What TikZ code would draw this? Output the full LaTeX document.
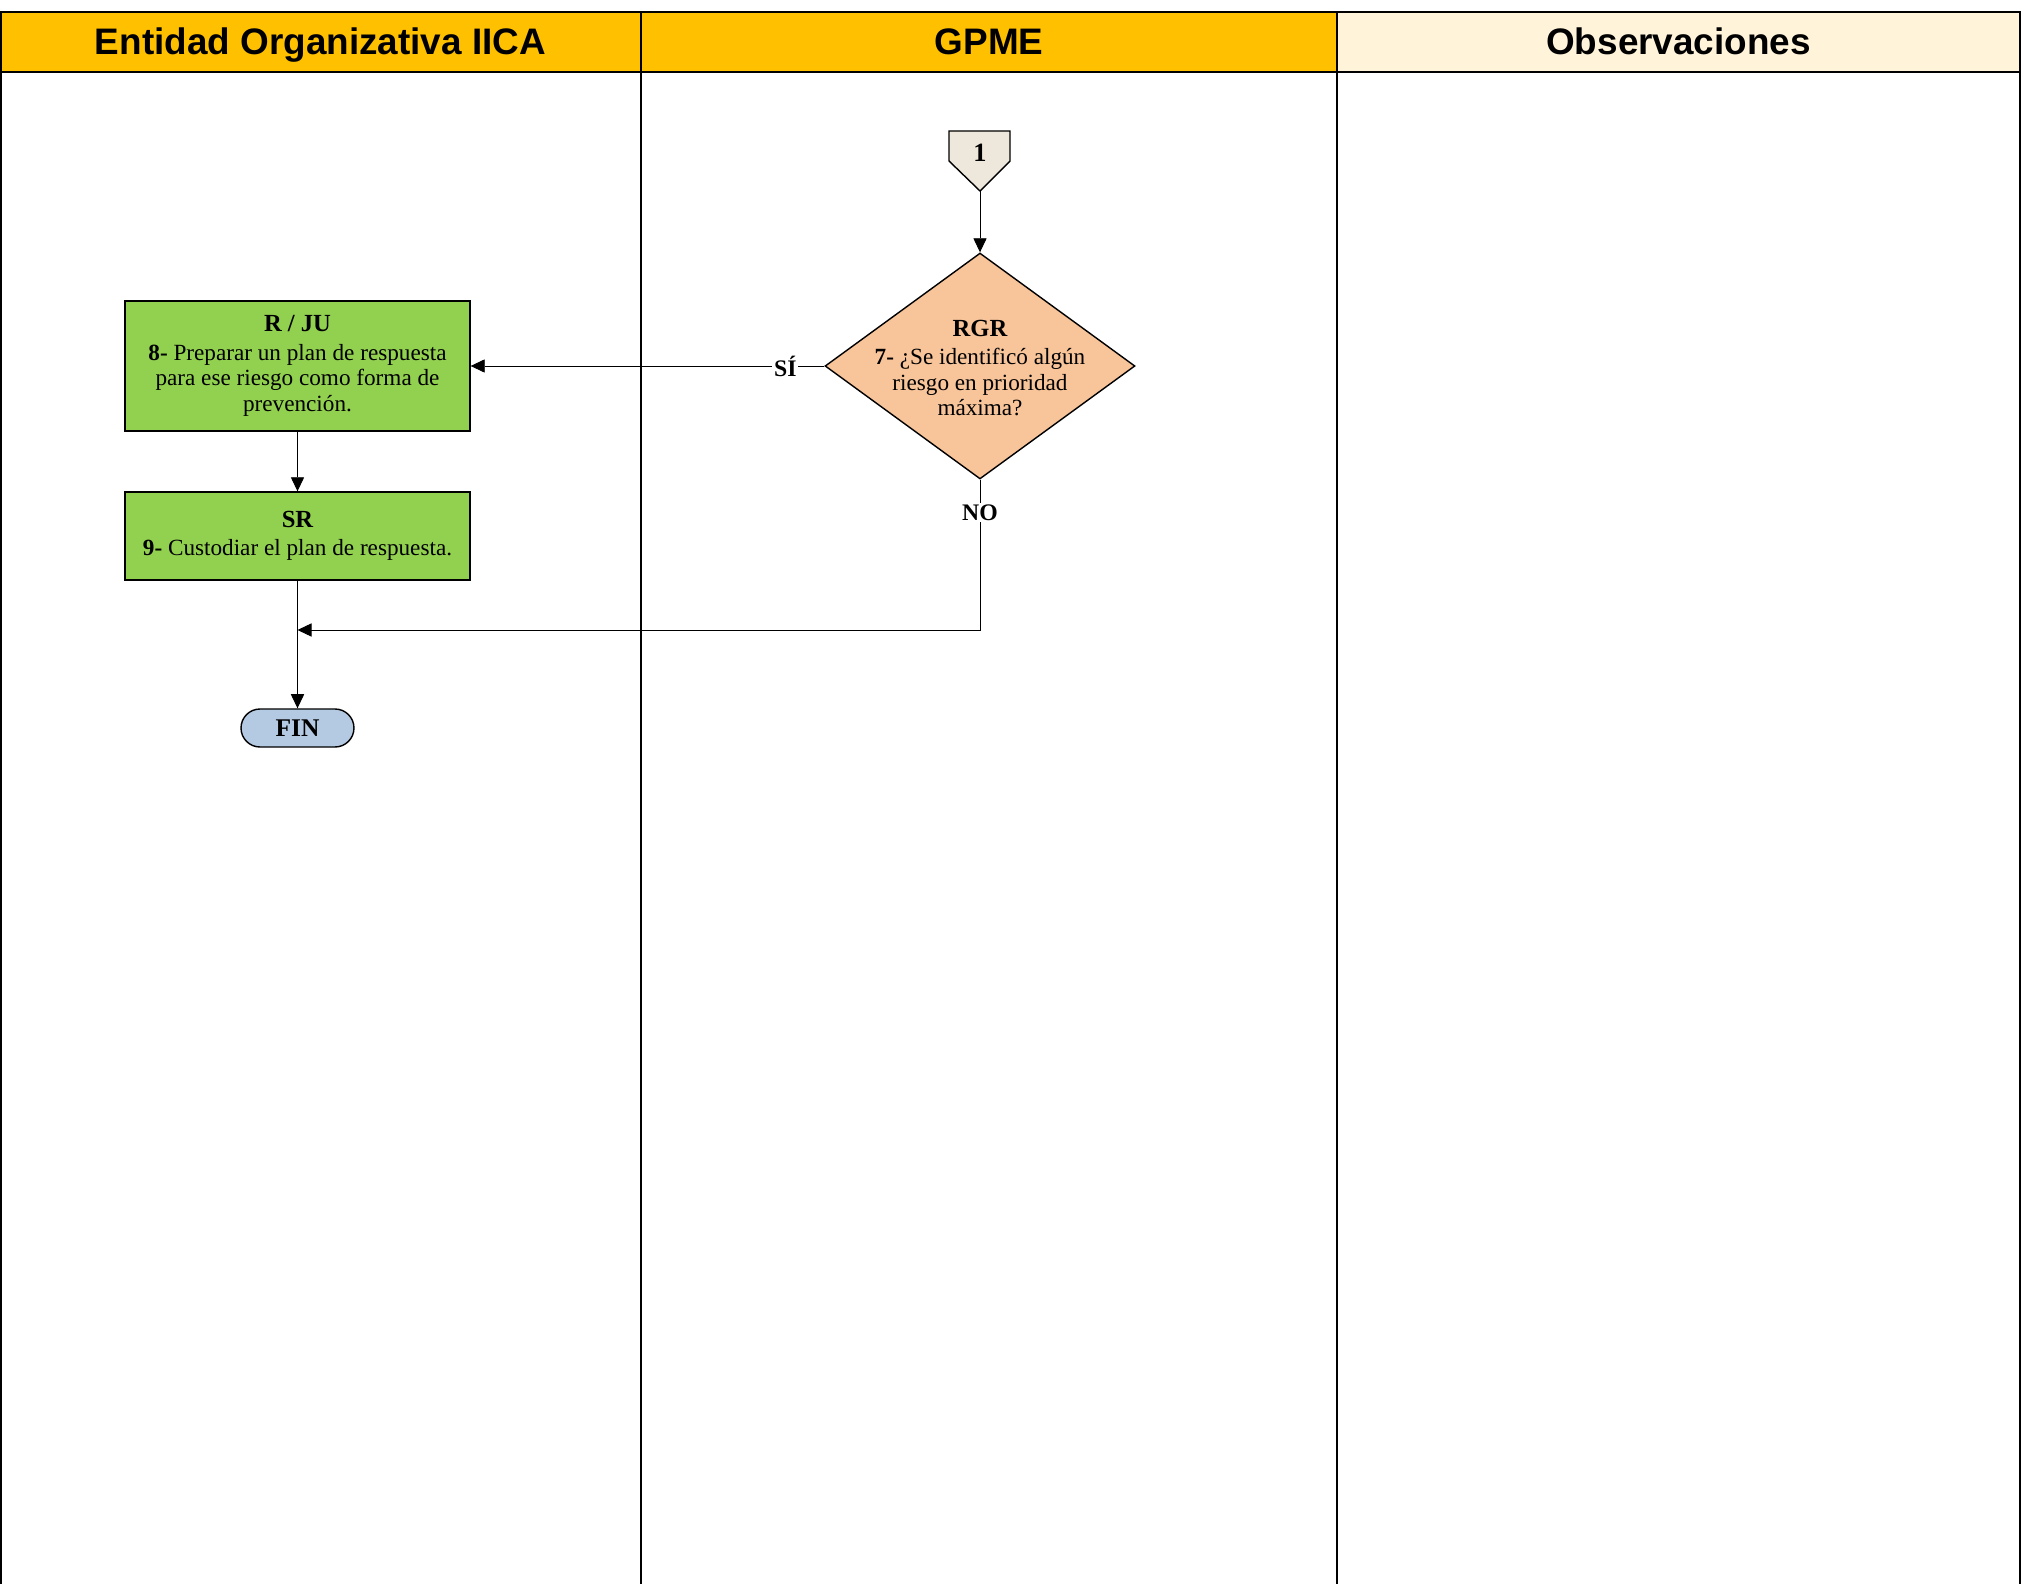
\documentclass[tikz,border=0pt]{standalone}
\usepackage{fontspec}
\setmainfont{Liberation Serif}
\newfontfamily\headfont{Liberation Sans}
\usetikzlibrary{shapes.geometric}
\usetikzlibrary{arrows.meta}
\definecolor{headorange}{HTML}{FFC000}
\definecolor{headcream}{HTML}{FFF3DA}
\definecolor{taskgreen}{HTML}{92D050}
\definecolor{decisionpeach}{HTML}{F8C49A}
\definecolor{endblue}{HTML}{B4C9E2}
\definecolor{connectortan}{HTML}{EEE8DC}
\tikzstyle{lanehead}=[font=\headfont\bfseries\fontsize{21}{25}\selectfont,text height=15pt,text depth=4.5pt]
\tikzstyle{laneline}=[line width=1.1pt]
\tikzstyle{task}=[draw,fill=taskgreen,rectangle,minimum width=6.9cm,align=center,line width=0.8pt,font=\fontsize{13.2}{14.6}\selectfont]
\tikzstyle{decision}=[draw,fill=decisionpeach,diamond,minimum width=6.2cm,minimum height=4.52cm,inner sep=0pt,line width=0.8pt]
\tikzstyle{terminal}=[draw,fill=endblue,rectangle,rounded corners=0.38cm,minimum width=2.26cm,minimum height=0.76cm,line width=0.8pt,font=\bfseries\fontsize{14.5}{16}\selectfont]
\tikzstyle{flow}=[-{Triangle[length=8pt,width=7.5pt]},line width=0.5pt]
\tikzstyle{answer}=[fill=white,inner sep=1pt,font=\bfseries\fontsize{13.5}{15}\selectfont]
\newcommand{\steptext}[3]{{\bfseries\fontsize{14}{17}\selectfont #1}\\[1.5pt]{\bfseries #2-} #3}

\begin{document}
\begin{tikzpicture}[x=0.02cm,y=-0.02cm]
  \useasboundingbox (0,0) rectangle (2024,1584);
  % lanes
  \fill[headorange] (1,12) rectangle (1337,72);
  \fill[headcream] (1337,12) rectangle (2020,72);
  \draw[laneline] (1,12) rectangle (2020,72);
  \foreach \x in {1,641,1337,2020}
    \draw[laneline] (\x,12) -- (\x,1584);
  \node[lanehead] (laneiica) at (320.5,45) {Entidad Organizativa IICA};
  \node[lanehead] (lanegpme) at (989,45) {GPME};
  \node[lanehead] (laneobs) at (1678.5,45) {Observaciones};

  % off-page connector
  \draw[fill=connectortan,line width=0.8pt] (949,131) -- (1010,131) -- (1010,161) -- (980,191) -- (949,161) -- cycle;
  \node[font=\bfseries\fontsize{15}{16}\selectfont] (con1) at (980,153) {1};
  \coordinate (con1tip) at (980,191);

  \node[decision] (d7) at (980,366) {};
  \node[align=center,font=\fontsize{13.2}{14.6}\selectfont] (d7text) at (980,368)
    {\steptext{RGR}{7}{¿Se identificó algún\\riesgo en prioridad\\máxima?}};

  \node[task,minimum height=2.6cm] (t8) at (297.5,366)
    {\steptext{R / JU}{8}{Preparar un plan de respuesta\\para ese riesgo como forma de\\prevención.}};
  \node[task,minimum height=1.76cm] (t9) at (297.5,536)
    {\steptext{SR}{9}{Custodiar el plan de respuesta.}};
  \node[terminal] (fin) at (297.5,728) {FIN};
  \coordinate (merge) at (297.5,630);

  \draw[flow] (con1tip) -- (d7.north);
  \draw[flow] (d7.west) -- node[answer,pos=0.11] {SÍ} (t8.east);
  \draw[flow] (t8) -- (t9);
  \draw[flow] (t9) -- (fin);
  \draw[flow] (d7.south) -- node[answer,pos=0.22] {NO} (d7.south |- merge) -- (merge);
\end{tikzpicture}
\end{document}
